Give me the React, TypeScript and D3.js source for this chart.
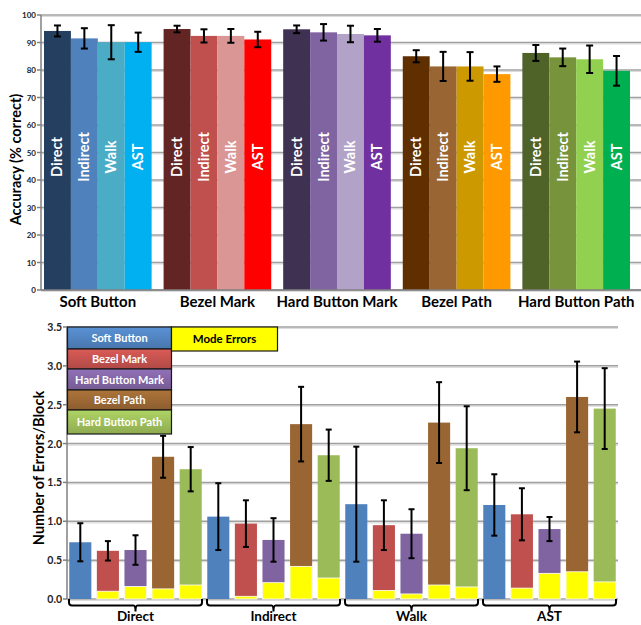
import * as d3 from 'd3';

// accuracy chart (top)
const techniques = ['Soft Button', 'Bezel Mark', 'Hard Button Mark', 'Bezel Path', 'Hard Button Path'];
const conditions = ['Direct', 'Indirect', 'Walk', 'AST'];
const accuracy = [
  [94.2, 91.5, 90.1, 90.1],
  [94.9, 92.4, 92.4, 91.1],
  [94.8, 93.7, 93.1, 92.6],
  [85.0, 81.3, 81.3, 78.5],
  [86.2, 84.6, 83.9, 79.7],
];
const accuracyErr = [
  [2.0, 3.7, 6.2, 3.5],
  [1.2, 2.4, 2.5, 2.8],
  [1.4, 3.0, 3.0, 2.3],
  [2.2, 5.3, 5.2, 2.8],
  [2.9, 3.2, 5.0, 5.4],
];
const accColors = [
  ['#243F60', '#4F81BD', '#4BACC6', '#00B0F0'],
  ['#632523', '#C0504D', '#D99694', '#FF0000'],
  ['#3F3151', '#8064A2', '#B2A2C7', '#7030A0'],
  ['#5F2F00', '#996633', '#CC9900', '#FF9900'],
  ['#4F6228', '#77933C', '#92D050', '#00B050'],
];
const accTicks = [0, 10, 20, 30, 40, 50, 60, 70, 80, 90, 100];

// errors chart (bottom), rows = condition, cols = technique
const totalErrors = [
  [0.73, 0.62, 0.63, 1.83, 1.67],
  [1.06, 0.97, 0.76, 2.25, 1.85],
  [1.22, 0.95, 0.84, 2.27, 1.94],
  [1.21, 1.09, 0.90, 2.60, 2.45],
];
const modeErrors = [
  [0, 0.10, 0.16, 0.13, 0.18],
  [0, 0.035, 0.21, 0.42, 0.27],
  [0, 0.11, 0.065, 0.18, 0.155],
  [0, 0.14, 0.33, 0.35, 0.22],
];
const errorsErr = [
  [0.245, 0.125, 0.19, 0.27, 0.285],
  [0.43, 0.30, 0.28, 0.48, 0.33],
  [0.74, 0.32, 0.315, 0.52, 0.54],
  [0.395, 0.335, 0.155, 0.455, 0.52],
];
const techColors = ['#4F81BD', '#C0504D', '#8064A2', '#996633', '#9BBB59'];
const modeColor = '#FFFF00';
const errTicks = [0, 0.5, 1.0, 1.5, 2.0, 2.5, 3.0, 3.5];

const FONT = 'Lato, "Open Sans", sans-serif';

function ErrorBar({ x, y1, y2, cap }: { x: number; y1: number; y2: number; cap: number }) {
  return (
    <g stroke="#000" strokeWidth={2}>
      <line x1={x} x2={x} y1={y1} y2={y2} />
      <line x1={x - cap} x2={x + cap} y1={y1} y2={y1} />
      <line x1={x - cap} x2={x + cap} y1={y2} y2={y2} />
    </g>
  );
}

function AccuracyChart() {
  const left = 41, right = 641, top = 15, bottom = 290;
  const y = d3.scaleLinear().domain([0, 100]).range([bottom, top]);
  const x0 = d3.scaleBand().domain(techniques).range([44, 630]).paddingInner(0.1).paddingOuter(0);
  const x1 = d3.scaleBand().domain(conditions).range([0, x0.bandwidth()]);
  return (
    <g fontFamily={FONT}>
      {accTicks.map((t) => (
        <g key={t}>
          <line x1={left} x2={right} y1={y(t) + 1.5} y2={y(t) + 1.5} stroke="#dcdcdc" strokeWidth={1.2} />
          <line x1={left} x2={right} y1={y(t)} y2={y(t)} stroke="#a0a0a0" strokeWidth={1.5} />
          <line x1={left - 4} x2={left} y1={y(t)} y2={y(t)} stroke="#808080" strokeWidth={1.5} />
          <text x={left - 5} y={y(t) + 3} textAnchor="end" fontSize={8} fontWeight="bold" fill="#222">{t}</text>
        </g>
      ))}
      {techniques.map((tech, i) => (
        <g key={tech} transform={`translate(${x0(tech)},0)`}>
          {conditions.map((c, j) => {
            const bx = x1(c)!;
            const bw = x1.bandwidth();
            const v = accuracy[i][j];
            const e = accuracyErr[i][j];
            const cx = bx + bw / 2;
            return (
              <g key={c}>
                <rect x={bx} y={y(v)} width={bw} height={y(0) - y(v)} fill={accColors[i][j]} />
                <text
                  transform={`translate(${cx + 5},157) rotate(-90)`}
                  textAnchor="middle"
                  fontSize={14.5}
                  fontWeight="bold"
                  fill="#fff"
                >{c}</text>
                <ErrorBar x={cx} y1={y(v + e)} y2={y(v - e)} cap={3.5} />
              </g>
            );
          })}
          <text x={x0.bandwidth() / 2} y={307} textAnchor="middle" fontSize={15} fontWeight="bold" fill="#000">{tech}</text>
        </g>
      ))}
      <line x1={left} x2={left} y1={top} y2={bottom} stroke="#808080" strokeWidth={1.5} />
      <line x1={left} x2={right} y1={bottom} y2={bottom} stroke="#808080" strokeWidth={1.5} />
      <text transform={`translate(21,${(top + bottom) / 2 + 7}) rotate(-90)`} textAnchor="middle" fontSize={14.5} fontWeight="bold" fill="#000">Accuracy (% correct)</text>
    </g>
  );
}

function ErrorsChart() {
  const left = 67, right = 618, top = 327, bottom = 599;
  const y = d3.scaleLinear().domain([0, 3.5]).range([bottom, top]);
  const x0 = d3.scaleBand().domain(conditions).range([66.5, 618.5]);
  const x1 = d3.scaleBand().domain(techniques).range([0, x0.bandwidth()]).paddingInner(0.2).paddingOuter(0.1);
  const legendRows = [
    [327, 349], [349, 369], [369, 390], [390, 410], [410, 434],
  ];
  return (
    <g fontFamily={FONT}>
      <defs>
        {techColors.concat([modeColor]).map((c, i) => (
          <linearGradient key={i} id={`lg${i}`} x1="0" x2="0" y1="0" y2="1">
            <stop offset="0" stopColor={d3.color(c)!.brighter(0.35).formatHex()} />
            <stop offset="1" stopColor={d3.color(c)!.darker(0.25).formatHex()} />
          </linearGradient>
        ))}
      </defs>
      {errTicks.map((t) => (
        <g key={t}>
          <line x1={left} x2={right} y1={y(t) + 1.5} y2={y(t) + 1.5} stroke="#dcdcdc" strokeWidth={1.2} />
          <line x1={left} x2={right} y1={y(t)} y2={y(t)} stroke="#a0a0a0" strokeWidth={1.5} />
          <line x1={left - 4} x2={left} y1={y(t)} y2={y(t)} stroke="#808080" strokeWidth={1.5} />
          <text x={left - 5} y={y(t) + 4} textAnchor="end" fontSize={10.5} fontWeight="bold" fill="#222">{t.toFixed(1)}</text>
        </g>
      ))}
      <line x1={left} x2={left} y1={top} y2={bottom} stroke="#808080" strokeWidth={1.5} />
      {conditions.map((c, i) => {
        const gx = x0(c)!;
        const x0s = gx + 2.5, x1s = gx + x0.bandwidth() - 2.5, mid = gx + x0.bandwidth() / 2;
        const by = 605.5;
        return (
          <g key={c}>
            {techniques.map((t, j) => {
              const bx = gx + x1(t)!;
              const bw = x1.bandwidth();
              const tot = totalErrors[i][j];
              const m = modeErrors[i][j];
              const e = errorsErr[i][j];
              return (
                <g key={t}>
                  <rect x={bx} y={y(tot)} width={bw} height={y(0) - y(tot)} fill={techColors[j]} />
                  {m > 0 && (
                    <rect x={bx} y={y(m)} width={bw} height={y(0) - y(m)} fill={modeColor} stroke="#fff" strokeWidth={0.8} />
                  )}
                  <ErrorBar x={bx + bw / 2} y1={y(tot + e)} y2={y(tot - e)} cap={3} />
                </g>
              );
            })}
            <path
              d={`M${x0s},${bottom}V${by - 3}Q${x0s},${by} ${x0s + 3},${by}H${mid - 2}Q${mid},${by} ${mid},${by + 6}Q${mid},${by} ${mid + 2},${by}H${x1s - 3}Q${x1s},${by} ${x1s},${by - 3}V${bottom}`}
              fill="none"
              stroke="#000"
              strokeWidth={2}
            />
            <text x={mid} y={621} textAnchor="middle" fontSize={13.5} fontWeight="bold" fill="#000">{c}</text>
          </g>
        );
      })}
      {techniques.map((t, j) => {
        const [ly0, ly1] = legendRows[j];
        return (
          <g key={t}>
            <rect x={67.5} y={ly0} width={104} height={ly1 - ly0} fill={`url(#lg${j})`} stroke="#1a1a1a" strokeWidth={1.2} />
            <text x={119.5} y={(ly0 + ly1) / 2 + 4} textAnchor="middle" fontSize={11} fontWeight="bold" fill="#fff">{t}</text>
          </g>
        );
      })}
      <rect x={171.5} y={327} width={106} height={24} fill={modeColor} stroke="#1a1a1a" strokeWidth={1.2} />
      <text x={224.5} y={343} textAnchor="middle" fontSize={11.5} fontWeight="bold" fill="#000">Mode Errors</text>
      <text transform={`translate(44,468) rotate(-90)`} textAnchor="middle" fontSize={14.5} fontWeight="bold" fill="#000">Number of Errors/Block</text>
    </g>
  );
}

export default function App() {
  return (
    <svg width={641} height={625} style={{ position: 'absolute', left: 0, top: 0, background: '#fff' }}>
      <AccuracyChart />
      <ErrorsChart />
    </svg>
  );
}
